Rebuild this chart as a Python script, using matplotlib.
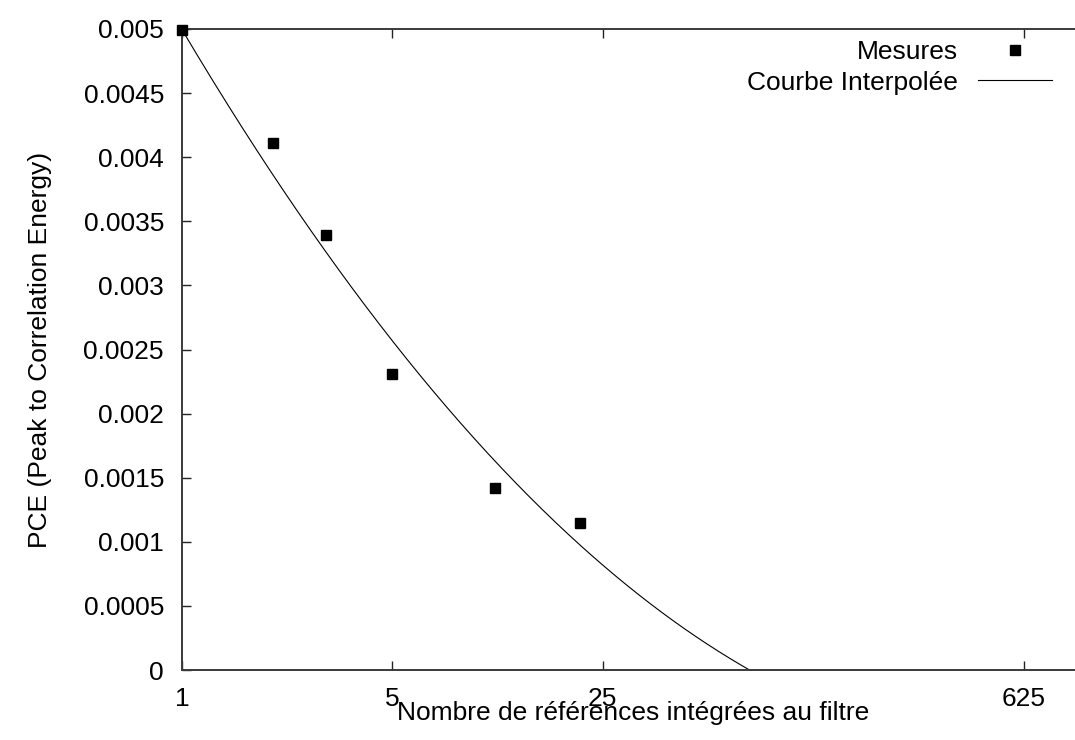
import numpy as np
import matplotlib
matplotlib.use('Agg')
import matplotlib.pyplot as plt
from matplotlib.ticker import FixedLocator, NullLocator

# measured points
nb_refs = [1, 2, 3, 5, 11, 21]
pce = [0.00499, 0.00411, 0.00339, 0.00231, 0.00142, 0.00115]

# interpolated curve: pce = a + b*log5(n) + c*log5(n)^2
curve_coefs = [0.004995, -0.002767, 0.0003393]

x_ticks = [1, 5, 25, 625]
x_tick_labels = ['1', '5', '25', '625']
y_ticks = [0, 0.0005, 0.001, 0.0015, 0.002, 0.0025, 0.003, 0.0035, 0.004, 0.0045, 0.005]
y_tick_labels = ['0', '0.0005', '0.001', '0.0015', '0.002', '0.0025', '0.003',
                 '0.0035', '0.004', '0.0045', '0.005']


def main():
    plt.rcParams['font.family'] = ['Liberation Sans', 'DejaVu Sans']
    plt.rcParams['font.size'] = 19

    W, H = 1075, 740
    fig = plt.figure(figsize=(W / 100, H / 100), dpi=100)
    left, right, top, bottom = 182, 1085, 29, 670
    ax = fig.add_axes([left / W, 1 - bottom / H, (right - left) / W, (bottom - top) / H])

    ax.set_xscale('log')
    ax.set_xlim(1, 1000)
    ax.set_ylim(0, 0.005)

    ax.plot(nb_refs, pce, linestyle='none', marker='s', markersize=7.2,
            color='black', clip_on=False, label='Mesures', zorder=3)

    xs = np.geomspace(1, 1000, 400)
    u = np.log(xs) / np.log(5)
    ys = curve_coefs[0] + curve_coefs[1] * u + curve_coefs[2] * u ** 2
    ax.plot(xs, ys, color='black', linewidth=0.8, label='Courbe Interpolée')

    ax.xaxis.set_major_locator(FixedLocator(x_ticks))
    ax.xaxis.set_minor_locator(NullLocator())
    ax.set_xticklabels(x_tick_labels)
    ax.set_yticks(y_ticks)
    ax.set_yticklabels(y_tick_labels)

    ax.tick_params(direction='in', length=6.5, width=1.0, color='#222222',
                   top=True, right=True, labelcolor='black')
    ax.tick_params(axis='x', pad=12.5)
    ax.tick_params(axis='y', pad=13)
    for sp in ax.spines.values():
        sp.set_linewidth(1.4)
        sp.set_color('#3a3a3a')

    ax.set_xlabel('Nombre de références intégrées au filtre')
    ax.xaxis.label.set_va('baseline')
    ax.xaxis.set_label_coords(0.5, -(720 - bottom) / (bottom - top))
    ax.set_ylabel('PCE (Peak to Correlation Energy)')
    ax.yaxis.label.set_va('baseline')
    ax.yaxis.set_label_coords(-(left - 47) / (right - left), 0.5)

    ax.legend(loc='upper right', bbox_to_anchor=(1052 / W, 1 - 40 / H),
              bbox_transform=fig.transFigure, frameon=False, markerfirst=False,
              borderpad=0, borderaxespad=0, handlelength=2.8, handletextpad=0.75,
              labelspacing=0.25)

    fig.savefig('out.png', dpi=100)


if __name__ == '__main__':
    main()
